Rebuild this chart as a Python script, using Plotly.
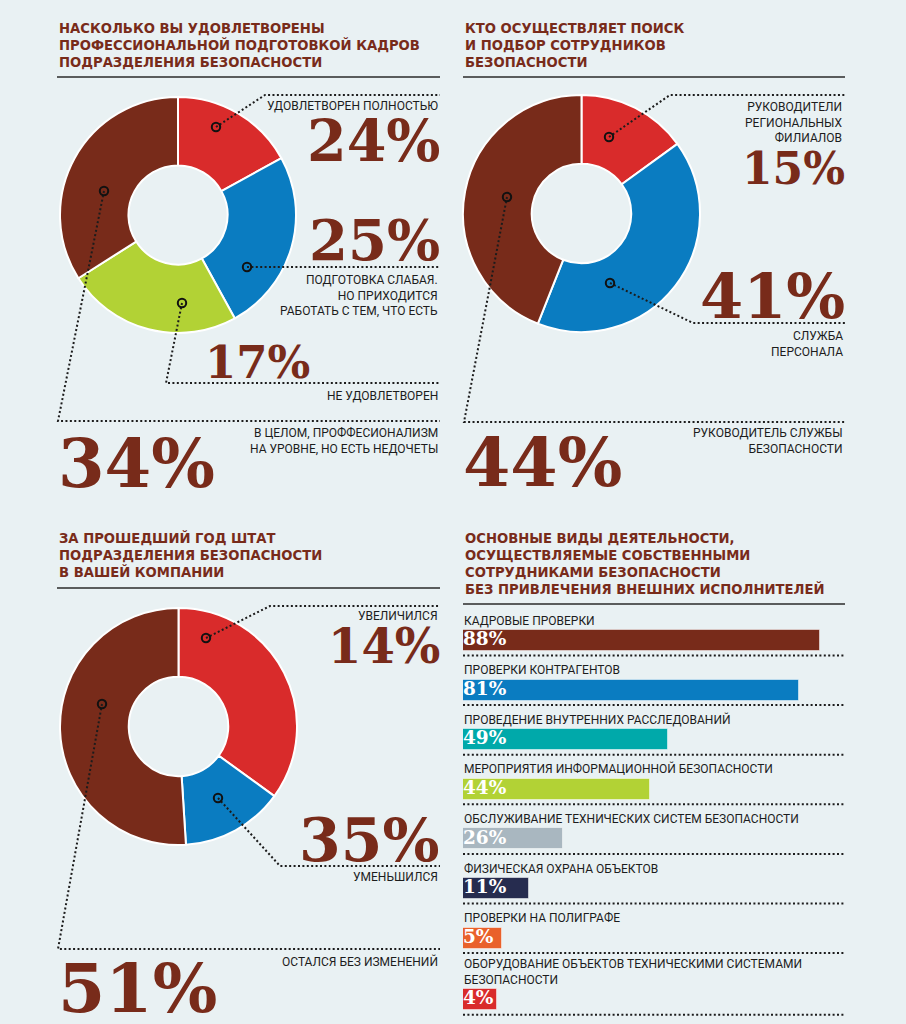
import plotly.graph_objects as go

# ---------------- palette ----------------
BG = "#E9F1F3"
BROWN = "#782B1A"
RED = "#D92B2B"
BLUE = "#0A7CC1"
GREEN = "#B2D235"
TEAL = "#00A9AA"
GRAY = "#A9B7C0"
NAVY = "#262C4F"
ORANGE = "#E9612B"
INK = "#1C1C1C"

# ---------------- data ----------------
# Chart 1
q1_title = ["НАСКОЛЬКО ВЫ УДОВЛЕТВОРЕНЫ", "ПРОФЕССИОНАЛЬНОЙ ПОДГОТОВКОЙ КАДРОВ", "ПОДРАЗДЕЛЕНИЯ БЕЗОПАСНОСТИ"]
q1_answers = ["УДОВЛЕТВОРЕН ПОЛНОСТЬЮ",
              "ПОДГОТОВКА СЛАБАЯ.<br>НО ПРИХОДИТСЯ<br>РАБОТАТЬ С ТЕМ, ЧТО ЕСТЬ",
              "НЕ УДОВЛЕТВОРЕН",
              "В ЦЕЛОМ, ПРОФФЕСИОНАЛИЗМ<br>НА УРОВНЕ, НО ЕСТЬ НЕДОЧЕТЫ"]
q1_pct_text = ["24%", "25%", "17%", "34%"]
q1_slices = [17, 25, 24, 34]          # slice sizes as drawn in the picture
q1_colors = [RED, BLUE, GREEN, BROWN]

# Chart 2
q2_title = ["КТО ОСУЩЕСТВЛЯЕТ ПОИСК", "И ПОДБОР СОТРУДНИКОВ", "БЕЗОПАСНОСТИ"]
q2_answers = ["РУКОВОДИТЕЛИ<br>РЕГИОНАЛЬНЫХ<br>ФИЛИАЛОВ",
              "СЛУЖБА<br>ПЕРСОНАЛА",
              "РУКОВОДИТЕЛЬ СЛУЖБЫ<br>БЕЗОПАСНОСТИ"]
q2_pct_text = ["15%", "41%", "44%"]
q2_slices = [15, 41, 44]
q2_colors = [RED, BLUE, BROWN]

# Chart 3
q3_title = ["ЗА ПРОШЕДШИЙ ГОД ШТАТ", "ПОДРАЗДЕЛЕНИЯ БЕЗОПАСНОСТИ", "В ВАШЕЙ КОМПАНИИ"]
q3_answers = ["УВЕЛИЧИЛСЯ", "УМЕНЬШИЛСЯ", "ОСТАЛСЯ БЕЗ ИЗМЕНЕНИЙ"]
q3_pct_text = ["14%", "35%", "51%"]
q3_slices = [35, 14, 51]
q3_colors = [RED, BLUE, BROWN]

# Chart 4
q4_title = ["ОСНОВНЫЕ ВИДЫ ДЕЯТЕЛЬНОСТИ,", "ОСУЩЕСТВЛЯЕМЫЕ СОБСТВЕННЫМИ",
            "СОТРУДНИКАМИ БЕЗОПАСНОСТИ", "БЕЗ ПРИВЛЕЧЕНИЯ ВНЕШНИХ ИСПОЛНИТЕЛЕЙ"]
q4_categories = ["КАДРОВЫЕ ПРОВЕРКИ",
                 "ПРОВЕРКИ КОНТРАГЕНТОВ",
                 "ПРОВЕДЕНИЕ ВНУТРЕННИХ РАССЛЕДОВАНИЙ",
                 "МЕРОПРИЯТИЯ ИНФОРМАЦИОННОЙ БЕЗОПАСНОСТИ",
                 "ОБСЛУЖИВАНИЕ ТЕХНИЧЕСКИХ СИСТЕМ БЕЗОПАСНОСТИ",
                 "ФИЗИЧЕСКАЯ ОХРАНА ОБЪЕКТОВ",
                 "ПРОВЕРКИ НА ПОЛИГРАФЕ",
                 "ОБОРУДОВАНИЕ ОБЪЕКТОВ ТЕХНИЧЕСКИМИ СИСТЕМАМИ<br>БЕЗОПАСНОСТИ"]
q4_pct_text = ["88%", "81%", "49%", "44%", "26%", "11%", "5%", "4%"]
q4_bar_len = [86, 81, 49.5, 45, 24, 16, 9.4, 8.2]   # bar lengths as drawn
q4_colors = [BROWN, BLUE, TEAL, GREEN, GRAY, NAVY, ORANGE, RED]

# ---------------- layout constants (pixel space) ----------------
W, H = 906, 1024
TITLE_FONT = dict(family="DejaVu Sans", size=13.2, color=BROWN, weight="bold")
LABEL_FONT = dict(family="Roboto", size=12, color=INK)
NUM_FAMILY = "DejaVu Serif"
DOT = "2px,2.4px"

fig = go.Figure()
shapes = []
annotations = []


def add_donut(values, colors, cx, cy, r):
    fig.add_trace(go.Pie(
        values=values, sort=False, direction="clockwise", rotation=0,
        hole=0.42, textinfo="none", hoverinfo="skip", showlegend=False,
        marker=dict(colors=colors, line=dict(color="white", width=2)),
        domain=dict(x=[(cx - r) / W, (cx + r) / W],
                    y=[1 - (cy + r) / H, 1 - (cy - r) / H]),
    ))


def add_title(lines, x, yc, rule_y, rule_x1):
    annotations.append(dict(x=x, y=yc, xref="x", yref="y", xanchor="left", yanchor="middle",
                            text="<br>".join(lines), align="left", showarrow=False,
                            font=TITLE_FONT))
    shapes.append(dict(type="line", xref="x", yref="y", x0=x, x1=rule_x1, y0=rule_y, y1=rule_y,
                       line=dict(color="#2A2A2A", width=1.6)))


def leader(points):
    d = "M " + " L ".join(f"{px} {py}" for px, py in points)
    shapes.append(dict(type="path", xref="x", yref="y", path=d,
                       line=dict(color=INK, width=2, dash=DOT)))
    # hollow callout ring at the slice end
    mx, my = points[0]
    shapes.append(dict(type="circle", xref="x", yref="y", x0=mx - 4.2, x1=mx + 4.2,
                       y0=my - 4.2, y1=my + 4.2, line=dict(color="#111", width=2)))


def label(text, x, y, anchor="right"):
    annotations.append(dict(x=x, y=y, xref="x", yref="y", xanchor=anchor, yanchor="middle",
                            text=text, align=anchor, showarrow=False, font=LABEL_FONT))


def number(text, x, y, size, anchor="right"):
    annotations.append(dict(x=x, y=y, xref="x", yref="y", xanchor=anchor, yanchor="middle",
                            text=text, showarrow=False,
                            font=dict(family=NUM_FAMILY, size=size, color=BROWN, weight="bold")))


# ---------------- Chart 1 ----------------
add_title(q1_title, 57, 45.5, 77, 440)
add_donut(q1_slices, q1_colors, 178, 215, 118)
c1_markers = [(216, 127), (247, 267), (182, 303), (104, 191)]
leader([c1_markers[0], (265, 95), (440, 95)])
leader([c1_markers[1], (440, 267)])
leader([c1_markers[2], (166, 383), (440, 383)])
leader([c1_markers[3], (58, 421), (440, 421)])
label(q1_answers[0], 440, 106)
label(q1_answers[1], 440, 295)
label(q1_answers[2], 440, 396)
label(q1_answers[3], 440, 441)
number(q1_pct_text[0], 442, 140, 57)
number(q1_pct_text[1], 442, 240, 56)
number(q1_pct_text[2], 312, 362, 45)
number(q1_pct_text[3], 56, 463, 67, anchor="left")

# ---------------- Chart 2 ----------------
add_title(q2_title, 463, 45.5, 77, 845)
add_donut(q2_slices, q2_colors, 581.5, 213.5, 118.5)
c2_markers = [(609, 137), (610, 283), (507, 197)]
leader([c2_markers[0], (670, 95), (845, 95)])
leader([c2_markers[1], (693, 323), (845, 323)])
leader([c2_markers[2], (464, 422), (845, 422)])
label(q2_answers[0], 845, 122)
label(q2_answers[1], 845, 343.5)
label(q2_answers[2], 845, 441)
number(q2_pct_text[0], 847, 168, 44)
number(q2_pct_text[1], 847, 296, 62)
number(q2_pct_text[2], 461, 462, 68, anchor="left")

# ---------------- Chart 3 ----------------
add_title(q3_title, 57, 555, 588, 440)
add_donut(q3_slices, q3_colors, 178.5, 726.5, 118.5)
c3_markers = [(206, 638), (218, 798), (102, 704)]
leader([c3_markers[0], (270, 606), (440, 606)])
leader([c3_markers[1], (280, 866), (440, 866)])
leader([c3_markers[2], (58, 949), (440, 949)])
label(q3_answers[0], 440, 616)
label(q3_answers[1], 440, 877)
label(q3_answers[2], 440, 961)
number(q3_pct_text[0], 442, 646, 48)
number(q3_pct_text[1], 442, 840, 60)
number(q3_pct_text[2], 56, 988, 68, anchor="left")

# ---------------- Chart 4 (bars) ----------------
add_title(q4_title, 463, 564, 604, 845)
ROW0, STEP, EXTRA = 640.5, 49.6, 12
row_y = []
acc = 0
for cat in q4_categories:
    acc += EXTRA * cat.count("<br>")
    row_y.append(ROW0 + STEP * len(row_y) + acc)

fig.add_trace(go.Bar(x=q4_bar_len, y=row_y, orientation="h", xaxis="x2", yaxis="y",
                     width=21, hoverinfo="skip", showlegend=False,
                     marker=dict(color=q4_colors, line=dict(color="rgba(255,255,255,0.5)", width=1))))
fig.add_trace(go.Scatter(x=[0] * len(row_y), y=row_y, mode="text", xaxis="x2", yaxis="y",
                         text=q4_pct_text, textposition="middle right", hoverinfo="skip",
                         showlegend=False,
                         textfont=dict(family=NUM_FAMILY, size=18.5, color="white", weight="bold")))
for cat, yy in zip(q4_categories, row_y):
    annotations.append(dict(x=462, y=yy - 11, xref="x", yref="y", xanchor="left", yanchor="bottom",
                            text=cat, align="left", showarrow=False, font=LABEL_FONT))
    shapes.append(dict(type="line", xref="x", yref="y", x0=463, x1=845, y0=yy + 15, y1=yy + 15,
                       line=dict(color=INK, width=2, dash=DOT)))

fig.update_layout(
    width=W, height=H, margin=dict(l=0, r=0, t=0, b=0),
    paper_bgcolor=BG, plot_bgcolor="rgba(0,0,0,0)",
    xaxis=dict(range=[0, W], domain=[0, 1], visible=False, fixedrange=True),
    yaxis=dict(range=[H, 0], domain=[0, 1], visible=False, fixedrange=True),
    xaxis2=dict(range=[0, 100], domain=[463 / W, 878 / W], anchor="y", visible=False,
                fixedrange=True),
    shapes=shapes, annotations=annotations, bargap=0,
)

fig.write_html("out.html", config={"displayModeBar": False},
               post_script="document.body.style.margin='0px';document.body.style.overflow='hidden';")
